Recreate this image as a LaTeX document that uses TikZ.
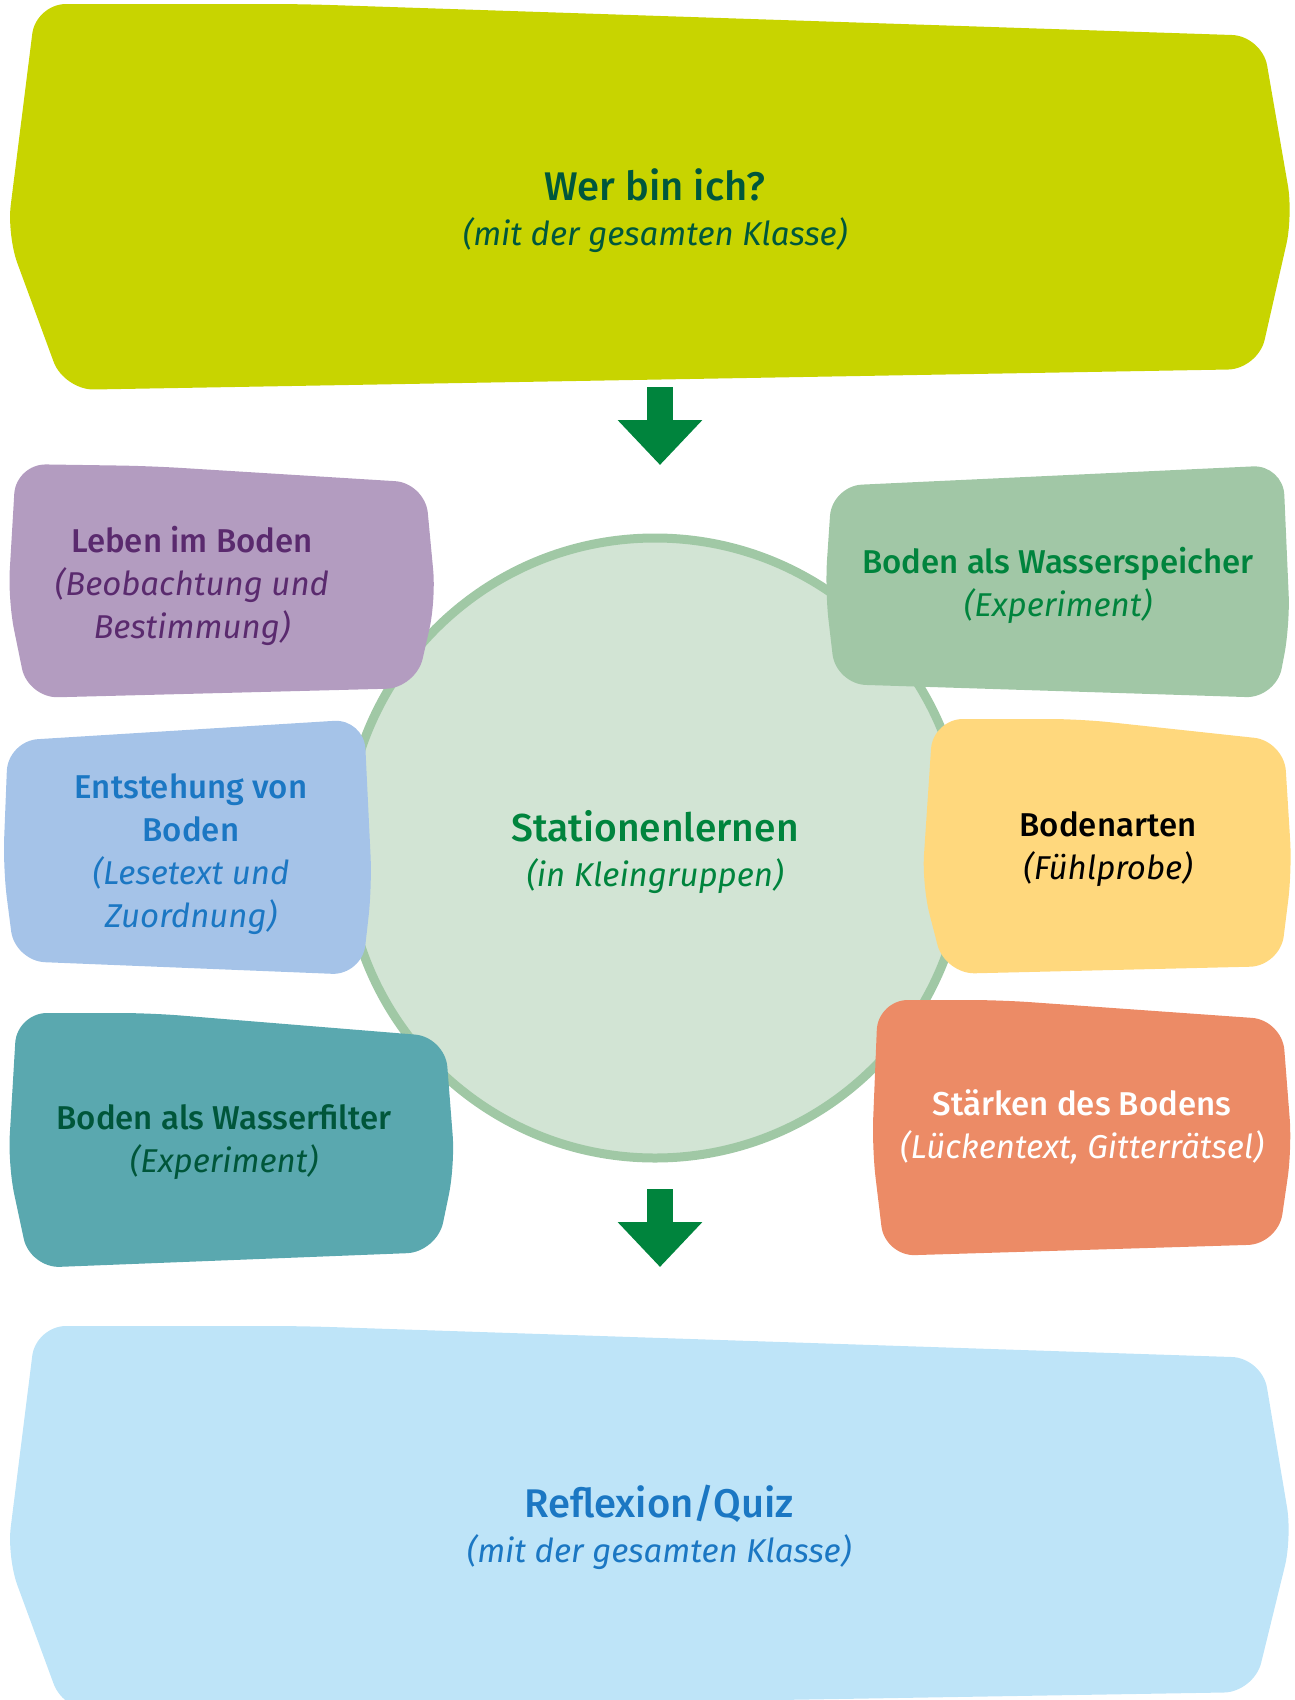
\documentclass[tikz,border=0pt]{standalone}
\usepackage{fontspec}
\setmainfont{Fira Sans}[BoldFont={Fira Sans Medium},BoldItalicFont={Fira Sans Medium Italic}]
\usetikzlibrary{arrows.meta}
\definecolor{limeF}{HTML}{C8D400}
\definecolor{wertext}{HTML}{00573C}
\definecolor{arrowG}{HTML}{00843D}
\definecolor{circF}{HTML}{D2E4D4}
\definecolor{circB}{HTML}{A0C8A5}
\definecolor{purpleF}{HTML}{B39CC0}
\definecolor{purpleT}{HTML}{5A2A6E}
\definecolor{blueF}{HTML}{A5C3E8}
\definecolor{blueT}{HTML}{1B77C3}
\definecolor{tealF}{HTML}{5AA8AF}
\definecolor{tealT}{HTML}{00563A}
\definecolor{greenF}{HTML}{A1C7A6}
\definecolor{greenT}{HTML}{00843D}
\definecolor{yellowF}{HTML}{FFD87D}
\definecolor{orangeF}{HTML}{EC8B66}
\definecolor{skyF}{HTML}{BEE4F8}
\tikzset{
  blob/.style={rounded corners=30pt},
  lbl/.style={align=center, inner sep=0pt, font=\fontsize{33}{43}\selectfont},
  bigarrow/.style={draw=arrowG, line width=26pt, -{Triangle[width=82pt,length=45pt]}}
}
\begin{document}
\begin{tikzpicture}[x=1pt,y=-1pt]
\useasboundingbox (0,0) rectangle (1294,1700);
\clip (0,0) rectangle (1294,1700);
% top and bottom shapes
\fill[limeF, blob] (36,4) -- (300,4) -- (1262,36) -- (1293,215) -- (1258,369) -- (64,390) -- (7,235) -- cycle;
\fill[skyF, blob] (36,1326) -- (300,1326) -- (1262,1358) -- (1292,1537) -- (1254,1692) -- (64,1712) -- (7,1557) -- cycle;
% circle
\fill[circF, draw=circB, line width=9pt] (655,848) circle [radius=310pt];
% station boxes
\fill[purpleF, blob] (16,464) -- (150,466) -- (425,483) -- (436,600) -- (416,688) -- (28,698) -- (8,600) -- cycle;
\fill[blueF, blob] (8,741) -- (364,719) -- (372,886) -- (362,975) -- (15,961) -- (3,868) -- cycle;
\fill[tealF, blob] (17,1013) -- (150,1013) -- (445,1037) -- (455,1165) -- (437,1252) -- (30,1268) -- (8,1165) -- cycle;
\fill[greenF, blob] (832,486) -- (1283,465) -- (1290,625) -- (1276,698) -- (836,684) -- (825,590) -- cycle;
\fill[yellowF, blob] (933,719) -- (1080,719) -- (1284,741) -- (1292,870) -- (1280,966) -- (945,974) -- (922,885) -- cycle;
\fill[orangeF, blob] (878,1000) -- (1000,1000) -- (1282,1020) -- (1292,1148) -- (1278,1244) -- (885,1256) -- (872,1148) -- cycle;
% texts
\node[lbl, text=wertext] (wer) at (655,211) {{\fontsize{40}{45}\selectfont\bfseries Wer bin ich?}\\[2pt]\textit{(mit der gesamten Klasse)}};
\node[lbl, text=greenT] (stat) at (655,852) {{\fontsize{39}{45}\selectfont\bfseries Stationenlernen}\\[2pt]\textit{(in Kleingruppen)}};
\node[lbl, text=purpleT] (leben) at (192,586) {\textbf{Leben im Boden}\\\textit{(Beobachtung und}\\\textit{Bestimmung)}};
\node[lbl, text=blueT] (entst) at (191,854) {\textbf{Entstehung von}\\\textbf{Boden}\\\textit{(Lesetext und}\\\textit{Zuordnung)}};
\node[lbl, text=tealT] (filter) at (224,1142) {\textbf{Boden als Wasserfilter}\\\textit{(Experiment)}};
\node[lbl, text=greenT] (speicher) at (1058,585) {\textbf{Boden als Wasserspeicher}\\\textit{(Experiment)}};
\node[lbl, text=black] (arten) at (1108,849) {\textbf{Bodenarten}\\\textit{(Fühlprobe)}};
\node[lbl, text=white] (staerken) at (1082,1127) {\textbf{Stärken des Bodens}\\\textit{(Lückentext, Gitterrätsel)}};
\node[lbl, text=blueT] (refl) at (659,1527) {{\fontsize{40}{45}\selectfont\bfseries Reflexion/Quiz}\\[2pt]\textit{(mit der gesamten Klasse)}};
% arrows
\coordinate (a1s) at (660,387);
\coordinate (a1e) at (660,465);
\coordinate (a2s) at (660,1189);
\coordinate (a2e) at (660,1267);
\draw[bigarrow] (a1s) -- (a1e);
\draw[bigarrow] (a2s) -- (a2e);
\end{tikzpicture}
\end{document}
